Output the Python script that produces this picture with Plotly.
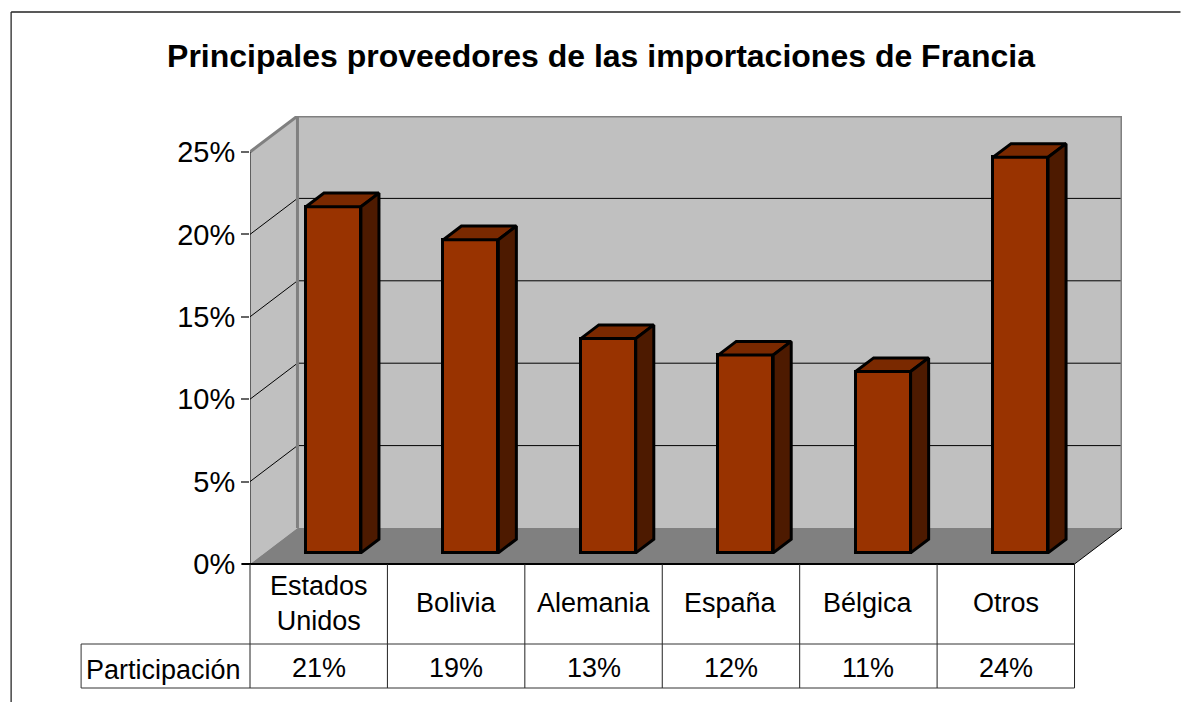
import plotly.graph_objects as go

# ---- data ----
categories = ["Estados<br>Unidos", "Bolivia", "Alemania", "España", "Bélgica", "Otros"]
values = [21, 19, 13, 12, 11, 24]
y_ticks = [0, 5, 10, 15, 20, 25]
y_tick_labels = ["0%", "5%", "10%", "15%", "20%", "25%"]
row_label = "Participación"
title_text = "Principales proveedores de las importaciones de Francia"

# ---- geometry (pixels of the 1181x702 page) ----
W, H = 1181, 702
L, R, B, TOP25 = 250, 1075, 564, 152
DX, DY = 47.5, 36            # depth of the box
PX_CAT = (R - L) / len(categories)
PX_PCT = (B - TOP25) / 25
x_max = (R + DX - L) / PX_CAT
y_max = (B - TOP25 + DY) / PX_PCT
ddx, ddy = DX / PX_CAT, DY / PX_PCT   # depth in axis units
n = len(categories)

bar_w = 55 / PX_CAT
f0, f1 = 0.31, 0.69          # bar position in the depth of the box
FONT = "Liberation Sans, Arial, sans-serif"
FRONT, TOPC, SIDE = "#993300", "#7A2900", "#4D1A00"
WALL, FLOOR, EDGE = "#C0C0C0", "#808080", "#808080"
BAR_LW = 3


def poly(xs, ys, fill, lw=0, lc="black"):
    return go.Scatter(x=xs, y=ys, mode="lines", fill="toself", fillcolor=fill,
                      line=dict(color=lc, width=lw), hoverinfo="skip",
                      showlegend=False, cliponaxis=False)


fig = go.Figure()

# front faces
centers = [i + 0.5 + f0 * ddx for i in range(n)]
base = f0 * ddy
fig.add_trace(go.Bar(x=centers, y=values, base=[base] * n, width=bar_w,
                     marker=dict(color=FRONT, line=dict(color="black", width=BAR_LW)),
                     showlegend=False, cliponaxis=False))

# top and side faces
d = f1 - f0
for c, v in zip(centers, values):
    xl, xr = c - bar_w / 2, c + bar_w / 2
    yb, yt = base, base + v
    fig.add_trace(poly([xl, xl + d * ddx, xr + d * ddx, xr, xl],
                       [yt, yt + d * ddy, yt + d * ddy, yt, yt], TOPC, BAR_LW))
    fig.add_trace(poly([xr, xr + d * ddx, xr + d * ddx, xr, xr],
                       [yb, yb + d * ddy, yt + d * ddy, yt, yb], SIDE, BAR_LW))

shapes = []


def path(pts):
    return "M " + " L ".join(f"{a},{b}" for a, b in pts)


def area(pts, fill):
    shapes.append(dict(type="path", xref="x", yref="y", layer="below",
                       path=path(pts) + " Z", fillcolor=fill, line=dict(width=0)))


def stroke(pts, color, w):
    shapes.append(dict(type="path", xref="x", yref="y", layer="below",
                       path=path(pts), line=dict(color=color, width=w)))


def xp(px):
    return (px - L) / (R + DX - L)


def yp(px):
    return (B - px) / (B - TOP25 + DY)


def px_line(x0, y0, x1, y1, color="black", w=1):
    shapes.append(dict(type="line", xref="paper", yref="paper",
                       x0=xp(x0), x1=xp(x1), y0=yp(y0), y1=yp(y1),
                       line=dict(color=color, width=w)))


# walls and floor
area([(0, 0), (ddx, ddy), (ddx, 25 + ddy), (0, 25)], WALL)
area([(ddx, ddy), (x_max, ddy), (x_max, y_max), (ddx, y_max)], WALL)
area([(0, 0), (ddx, ddy), (x_max, ddy), (n, 0)], FLOOR)
# gridlines
for t in y_ticks[1:-1]:
    stroke([(0, t), (ddx, t + ddy), (x_max, t + ddy)], "black", 1)
# wall edges
stroke([(0, 25), (ddx, 25 + ddy), (x_max, 25 + ddy), (x_max, ddy)], EDGE, 3)
stroke([(ddx, ddy), (ddx, 25 + ddy)], EDGE, 3)
stroke([(0, 0), (0, 25)], "black", 1)
stroke([(n, 0), (x_max, ddy)], "black", 1)

# table lines
px_line(L - 8, B, R, B, "black", 2)
for i in range(n + 1):
    xv = L + i * PX_CAT
    px_line(xv, B, xv, 688, "#222222", 1)
px_line(81, 644, R, 644, "#333333", 1)
px_line(81, 688, R, 688, "#333333", 1)
px_line(81, 644, 81, 688, "#333333", 1)
# outer frame
px_line(11, 12, 11, H, "#444444", 1.5)
px_line(11, 12, W, 12, "#222222", 1.5)

annotations = []


def label(xpx, ypx, text, size=27):
    annotations.append(dict(x=xp(xpx), xref="paper", y=yp(ypx), yref="paper",
                            text=text, showarrow=False, xanchor="center", yanchor="middle",
                            font=dict(family=FONT, size=size, color="black")))


for i, (c, v) in enumerate(zip(categories, values)):
    label(L + (i + 0.5) * PX_CAT, 603, c)
    label(L + (i + 0.5) * PX_CAT, 668, f"{v}%")
label(163, 670, row_label)

fig.update_layout(
    width=W, height=H, autosize=False,
    margin=dict(l=L, r=W - R - DX, t=TOP25 - DY, b=H - B, pad=0),
    paper_bgcolor="white", plot_bgcolor="white",
    showlegend=False, bargap=0,
    title=dict(text=f"<b>{title_text}</b>", x=601 / W, y=1 - 56 / H, xanchor="center", yanchor="middle",
               xref="container", yref="container",
               font=dict(family=FONT, size=32, color="black")),
    xaxis=dict(range=[0, x_max], visible=False, fixedrange=True),
    yaxis=dict(range=[0, y_max], tickmode="array", tickvals=y_ticks, ticktext=y_tick_labels,
               ticks="outside", ticklen=8, tickwidth=1.5, tickcolor="#666666",
               showgrid=False, zeroline=False, showline=False, fixedrange=True,
               tickfont=dict(family=FONT, size=29, color="black")),
    shapes=shapes, annotations=annotations,
)

fig.write_html("out.html", config=dict(displayModeBar=False),
               post_script="document.body.style.margin='0';")
